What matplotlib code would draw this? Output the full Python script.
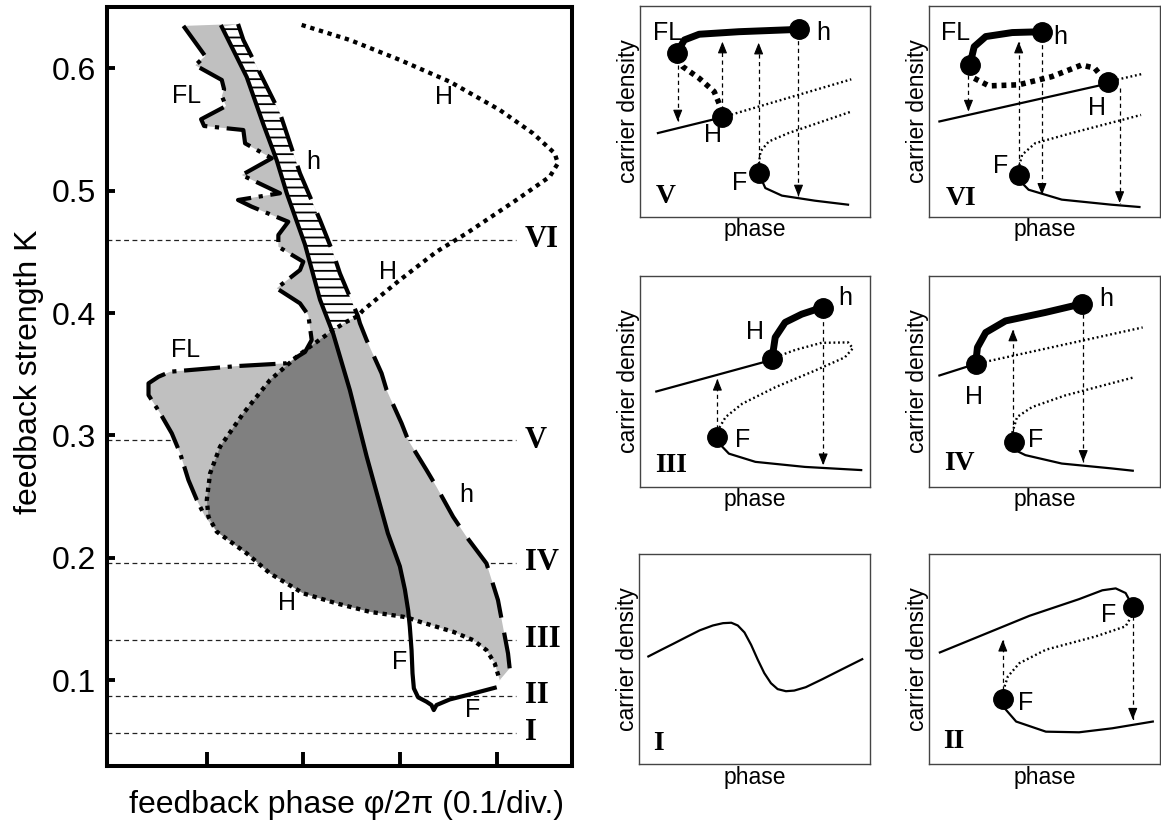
import matplotlib
matplotlib.use('Agg')
import matplotlib.pyplot as plt
import numpy as np

plt.rcParams['font.family'] = ['Liberation Sans', 'DejaVu Sans']
plt.rcParams['lines.scale_dashes'] = False
plt.rcParams['hatch.linewidth'] = 1.3

# --- main diagram: feedback phase (x) vs strength K ---
# F : saddle-node (solid)
fold_x = [0.1157, 0.1415, 0.1584, 0.1725, 0.1829, 0.2018, 0.2173, 0.2310, 0.2482,
          0.2655, 0.2875, 0.2999, 0.3051, 0.3085, 0.3102, 0.3120, 0.3130,
          0.3144, 0.3188, 0.3275, 0.3326, 0.3350, 0.3378, 0.3516, 0.3722, 0.3980]
fold_k = [0.634, 0.593, 0.555, 0.525, 0.498, 0.456, 0.411, 0.383, 0.337,
          0.283, 0.220, 0.193, 0.174, 0.157, 0.1436, 0.1245, 0.1055,
          0.0932, 0.0859, 0.0823, 0.0796, 0.0755, 0.0796, 0.0842, 0.0883, 0.0937]

# H : Hopf (dotted)
hopf_x = [0.1983, 0.2482, 0.2999, 0.3516, 0.4032, 0.4376, 0.4600, 0.4634, 0.4549,
          0.4204, 0.3688, 0.3378, 0.2999, 0.2620, 0.2565, 0.2448, 0.2310, 0.2069,
          0.1932, 0.1656, 0.1380, 0.1139, 0.1036, 0.1002, 0.1019, 0.1105, 0.1415,
          0.1656, 0.2000, 0.2345, 0.2689, 0.3033, 0.3092, 0.3206, 0.3550, 0.3756,
          0.3895, 0.3980, 0.4032]
hopf_k = [0.6356, 0.6233, 0.6070, 0.5892, 0.5661, 0.5470, 0.5307, 0.5225, 0.5115,
          0.4925, 0.4652, 0.4502, 0.4271, 0.4025, 0.3976, 0.3930, 0.3862, 0.3725,
          0.3643, 0.3453, 0.3181, 0.2908, 0.2690, 0.2472, 0.2335, 0.2213, 0.2036,
          0.1872, 0.1709, 0.1627, 0.1558, 0.1518, 0.1507, 0.1477, 0.1395, 0.1327,
          0.1245, 0.1137, 0.1000]

# h : homoclinic (dashed)
hom_x = [0.1325, 0.1380, 0.1553, 0.1759, 0.1966, 0.2173, 0.2310, 0.2379, 0.2565,
         0.2586, 0.2655, 0.2810, 0.2862, 0.3017, 0.3085, 0.3275, 0.3378, 0.3550,
         0.3688, 0.3895, 0.4014, 0.4066, 0.4118, 0.4135]
hom_k = [0.6364, 0.6233, 0.5961, 0.5634, 0.5143, 0.4761, 0.4489, 0.4325, 0.3976,
         0.3917, 0.3780, 0.3508, 0.3371, 0.3099, 0.2962, 0.2717, 0.2580, 0.2335,
         0.2172, 0.1954, 0.1654, 0.1436, 0.1218, 0.1096]

# FL : fold of limit cycles (dash-dot)
fl_x = [0.0760, 0.0985, 0.0884, 0.1157, 0.1181, 0.1157, 0.1201, 0.0943, 0.0974,
        0.1380, 0.1398, 0.1674, 0.1364, 0.1759, 0.1325, 0.1467, 0.1845, 0.1742,
        0.1742, 0.2000, 0.1966, 0.1725, 0.1966, 0.2052, 0.2087, 0.2018, 0.1829,
        0.1312, 0.0623, 0.0502, 0.0399, 0.0399, 0.0520, 0.0640, 0.0726, 0.0812,
        0.0899, 0.0985]
fl_k = [0.6348, 0.6102, 0.6026, 0.5906, 0.5830, 0.5775, 0.5693, 0.5585, 0.5530,
        0.5497, 0.5388, 0.5266, 0.5129, 0.4980, 0.4925, 0.4870, 0.4747, 0.4639,
        0.4543, 0.4420, 0.4352, 0.4203, 0.4080, 0.3984, 0.3780, 0.3682, 0.3590,
        0.3567, 0.3521, 0.3480, 0.3426, 0.3330, 0.3181, 0.3017, 0.2854, 0.2635,
        0.2472, 0.2335]

region_k = [0.057, 0.087, 0.133, 0.196, 0.296, 0.460]
region_names = ['I', 'II', 'III', 'IV', 'V', 'VI']

curve_labels = [('FL', 0.0795, 0.5775), ('h', 0.2103, 0.5233), ('H', 0.3454, 0.5764),
                ('H', 0.2878, 0.4339), ('FL', 0.0778, 0.3698), ('h', 0.3688, 0.2513),
                ('H', 0.1829, 0.1627), ('F', 0.2999, 0.1150), ('F', 0.3756, 0.0755)]

# --- sketches of carrier density vs phase (axes fraction) ---
v_stable_hi = [(0.161, 0.779), (0.194, 0.839), (0.258, 0.866), (0.430, 0.878), (0.689, 0.889)]
v_unstable_hi = [(0.161, 0.752), (0.187, 0.712), (0.258, 0.657), (0.323, 0.594), (0.356, 0.507)]
v_stable_mid = [(0.079, 0.397), (0.359, 0.472)]
v_unstable_mid = [(0.359, 0.472), (0.918, 0.652)]
v_unstable_lo = [(0.516, 0.207), (0.516, 0.239), (0.524, 0.310), (0.560, 0.357), (0.646, 0.397), (0.918, 0.499)]
v_stable_lo = [(0.516, 0.207), (0.545, 0.136), (0.617, 0.100), (0.760, 0.076), (0.904, 0.057)]
v_points = [(0.161, 0.776), (0.692, 0.889), (0.359, 0.472), (0.516, 0.207)]
v_jumps = [((0.165, 0.720), (0.165, 0.452)), ((0.359, 0.507), (0.359, 0.831)),
           ((0.516, 0.246), (0.516, 0.826)), ((0.689, 0.870), (0.689, 0.096))]
v_labels = [('FL', 0.122, 0.870), ('h', 0.796, 0.870), ('H', 0.316, 0.389), ('F', 0.433, 0.160)]

vi_stable_hi = [(0.175, 0.720), (0.194, 0.807), (0.244, 0.855), (0.359, 0.874), (0.488, 0.878)]
vi_unstable_hi = [(0.194, 0.657), (0.258, 0.621), (0.387, 0.626), (0.531, 0.665), (0.660, 0.720),
                  (0.717, 0.705), (0.753, 0.657)]
vi_stable_mid = [(0.043, 0.452), (0.775, 0.632)]
vi_unstable_mid = [(0.775, 0.641), (0.925, 0.678)]
vi_unstable_lo = [(0.387, 0.199), (0.387, 0.231), (0.402, 0.294), (0.459, 0.349), (0.617, 0.397), (0.918, 0.483)]
vi_stable_lo = [(0.387, 0.199), (0.395, 0.167), (0.430, 0.128), (0.574, 0.081), (0.789, 0.057), (0.911, 0.046)]
vi_points = [(0.175, 0.720), (0.488, 0.878), (0.775, 0.641), (0.387, 0.199)]
vi_jumps = [((0.169, 0.673), (0.169, 0.499)), ((0.387, 0.239), (0.387, 0.831)),
            ((0.488, 0.855), (0.488, 0.104)), ((0.825, 0.610), (0.825, 0.065))]
vi_labels = [('FL', 0.115, 0.870), ('h', 0.567, 0.855), ('H', 0.725, 0.515), ('F', 0.308, 0.239)]

iii_stable_hi = [(0.574, 0.606), (0.588, 0.709), (0.631, 0.780), (0.703, 0.819), (0.789, 0.850)]
iii_stable_mid = [(0.072, 0.452), (0.574, 0.602)]
iii_unstable = [(0.574, 0.606), (0.588, 0.614), (0.674, 0.649), (0.789, 0.683), (0.904, 0.685),
                (0.925, 0.657), (0.890, 0.614), (0.760, 0.551), (0.588, 0.472), (0.445, 0.394),
                (0.373, 0.331), (0.347, 0.283), (0.337, 0.236)]
iii_stable_lo = [(0.337, 0.236), (0.352, 0.197), (0.387, 0.157), (0.502, 0.118), (0.717, 0.094), (0.961, 0.079)]
iii_points = [(0.574, 0.606), (0.796, 0.850), (0.337, 0.236)]
iii_jumps = [((0.337, 0.276), (0.337, 0.512)), ((0.796, 0.819), (0.796, 0.102))]
iii_labels = [('h', 0.890, 0.898), ('H', 0.502, 0.732), ('F', 0.445, 0.220)]

iv_stable_hi = [(0.201, 0.591), (0.208, 0.661), (0.244, 0.732), (0.330, 0.787), (0.502, 0.827), (0.653, 0.866)]
iv_stable_mid = [(0.043, 0.528), (0.201, 0.583)]
iv_unstable_mid = [(0.201, 0.583), (0.925, 0.756)]
iv_unstable_lo = [(0.366, 0.213), (0.358, 0.252), (0.380, 0.331), (0.445, 0.378), (0.588, 0.433), (0.890, 0.520)]
iv_stable_lo = [(0.366, 0.213), (0.373, 0.173), (0.416, 0.150), (0.574, 0.110), (0.789, 0.087), (0.882, 0.076)]
iv_points = [(0.201, 0.583), (0.660, 0.866), (0.366, 0.213)]
iv_jumps = [((0.362, 0.258), (0.362, 0.746)), ((0.667, 0.819), (0.667, 0.118))]
iv_labels = [('h', 0.768, 0.890), ('H', 0.194, 0.425), ('F', 0.459, 0.220)]

i_curve = [(0.039, 0.512), (0.096, 0.544), (0.147, 0.572), (0.204, 0.604), (0.262, 0.636),
           (0.319, 0.659), (0.363, 0.670), (0.399, 0.672), (0.427, 0.659), (0.456, 0.626),
           (0.485, 0.567), (0.514, 0.496), (0.542, 0.433), (0.571, 0.385), (0.600, 0.357),
           (0.636, 0.347), (0.672, 0.350), (0.722, 0.366), (0.794, 0.404), (0.881, 0.452),
           (0.967, 0.499)]

ii_stable_hi = [(0.046, 0.531), (0.435, 0.705), (0.650, 0.784), (0.751, 0.826), (0.809, 0.835),
                (0.852, 0.813), (0.883, 0.750)]
ii_unstable = [(0.883, 0.747), (0.881, 0.710), (0.852, 0.655), (0.722, 0.607), (0.506, 0.544),
               (0.391, 0.480), (0.341, 0.417), (0.322, 0.353), (0.319, 0.309)]
ii_stable_lo = [(0.319, 0.309), (0.327, 0.266), (0.377, 0.203), (0.506, 0.155), (0.650, 0.152),
                (0.794, 0.171), (0.970, 0.203)]
ii_points = [(0.883, 0.747), (0.319, 0.309)]
ii_jumps = [((0.319, 0.353), (0.319, 0.591)), ((0.883, 0.702), (0.883, 0.212))]
ii_labels = [('F', 0.780, 0.708), ('F', 0.420, 0.293)]

LIGHT = '#c0c0c0'
DARK = '#808080'

fig = plt.figure(figsize=(11.61, 8.23), dpi=100)

# ---------------- main panel ----------------
ax = fig.add_axes([0.0922, 0.0696, 0.4005, 0.9215])
ax.set_xlim(-0.003, 0.478)
ax.set_ylim(0.030, 0.650)

for k, name in zip(region_k, region_names):
    ax.plot([-0.003, 0.42], [k, k], color='#222222', lw=0.9, dashes=(3.5, 2.5), zorder=1)
    ax.text(0.429, k, name, family='Liberation Serif', weight='bold', fontsize=22,
            ha='left', va='center')

fl = np.column_stack([fl_x, fl_k])
hopf = np.column_stack([hopf_x, hopf_k])
hom = np.column_stack([hom_x, hom_k])
fold = np.column_stack([fold_x, fold_k])

light_poly = np.vstack([fl, hopf[25:], hom[::-1]])
ax.fill(light_poly[:, 0], light_poly[:, 1], color=LIGHT, lw=0, zorder=2)
dark_poly = np.vstack([hopf[16:33], fold[13:6:-1]])
ax.fill(dark_poly[:, 0], dark_poly[:, 1], color=DARK, lw=0, zorder=3)
hatch_poly = np.vstack([hom[:9], hopf[15:17], fold[7::-1]])
ax.fill(hatch_poly[:, 0], hatch_poly[:, 1], facecolor='white', edgecolor='k',
        hatch='--', lw=0, zorder=3)

ax.plot(fold_x, fold_k, color='k', lw=3, zorder=6)
ax.plot(hom_x, hom_k, color='k', lw=3, dashes=(26, 11), zorder=5)
ax.plot(fl_x, fl_k, color='k', lw=3, dashes=(26, 5.5, 3, 5.5), zorder=5)
ax.plot(hopf_x, hopf_k, color='k', lw=3.1, dashes=(3.1, 3.4), zorder=6)

for txt, x, k in curve_labels:
    ax.text(x, k, txt, fontsize=18, ha='center', va='center', zorder=7)

ax.set_xticks([0.1, 0.2, 0.3, 0.4])
ax.set_yticks([0.1, 0.2, 0.3, 0.4, 0.5, 0.6])
ax.set_yticklabels(['0.1', '0.2', '0.3', '0.4', '0.5', '0.6'])
ax.tick_params(axis='x', direction='in', length=10, width=2.8, labelbottom=False)
ax.tick_params(axis='y', direction='in', length=6, width=2.8, labelsize=23, pad=8)
for s in ax.spines.values():
    s.set_linewidth(2.9)
ax.set_ylabel('feedback strength K', fontsize=23)
ax.yaxis.set_label_coords(-0.135, 0.52)
ax.set_xlabel('feedback phase φ/2π (0.1/div.)', fontsize=23)
ax.xaxis.set_label_coords(0.514, -0.032)


# ---------------- small sketches ----------------
def sketch(pos, roman, roman_xy):
    a = fig.add_axes(pos)
    a.set_xlim(0, 1)
    a.set_ylim(0, 1)
    a.set_xticks([])
    a.set_yticks([])
    for s in a.spines.values():
        s.set_linewidth(1.0)
        s.set_color('#444444')
    a.set_xlabel('phase', fontsize=16.5, labelpad=1)
    a.set_ylabel('carrier density', fontsize=16.5, labelpad=0)
    a.text(roman_xy[0], roman_xy[1], roman, family='Liberation Serif', weight='bold',
           fontsize=20, ha='center', va='center')
    return a


def line(a, pts, kind):
    xs, ys = zip(*pts)
    if kind == 'thick':
        a.plot(xs, ys, color='k', lw=5, solid_capstyle='round', solid_joinstyle='round')
    elif kind == 'thin':
        a.plot(xs, ys, color='k', lw=1.6, solid_joinstyle='round')
    elif kind == 'dots':
        a.plot(xs, ys, color='k', lw=1.7, dashes=(1.3, 2.0))
    elif kind == 'bigdots':
        a.plot(xs, ys, color='k', lw=4, dashes=(3.5, 3.5))


def jumps(a, pairs):
    for (x0, y0), (x1, y1) in pairs:
        a.plot([x0, x1], [y0, y1], color='k', lw=0.9, dashes=(3, 2.5))
        d = 0.05 if y1 > y0 else -0.05
        a.annotate('', xy=(x1, y1), xytext=(x1, y1 - d),
                   arrowprops=dict(arrowstyle='-|>,head_length=0.5,head_width=0.2',
                                   mutation_scale=14, color='k', lw=0.8,
                                   shrinkA=0, shrinkB=0))


def points(a, pts, labels):
    xs, ys = zip(*pts)
    a.plot(xs, ys, 'o', color='k', ms=14, zorder=5)
    for txt, x, y in labels:
        a.text(x, y, txt, fontsize=18, ha='center', va='center')


W, H = 0.1985, 0.2560
a = sketch([0.5510, 0.7367, W, H], 'V', (0.112, 0.096))
line(a, v_stable_hi, 'thick')
line(a, v_unstable_hi, 'bigdots')
line(a, v_stable_mid, 'thin')
line(a, v_unstable_mid, 'dots')
line(a, v_unstable_lo, 'dots')
line(a, v_stable_lo, 'thin')
jumps(a, v_jumps)
points(a, v_points, v_labels)

a = sketch([0.8006, 0.7367, W, H], 'VI', (0.136, 0.088))
line(a, vi_stable_hi, 'thick')
line(a, vi_unstable_hi, 'bigdots')
line(a, vi_stable_mid, 'thin')
line(a, vi_unstable_mid, 'dots')
line(a, vi_unstable_lo, 'dots')
line(a, vi_stable_lo, 'thin')
jumps(a, vi_jumps)
points(a, vi_points, vi_labels)

a = sketch([0.5510, 0.4086, W, H], 'III', (0.136, 0.102))
line(a, iii_stable_hi, 'thick')
line(a, iii_stable_mid, 'thin')
line(a, iii_unstable, 'dots')
line(a, iii_stable_lo, 'thin')
jumps(a, iii_jumps)
points(a, iii_points, iii_labels)

a = sketch([0.8006, 0.4086, W, H], 'IV', (0.129, 0.110))
line(a, iv_stable_hi, 'thick')
line(a, iv_stable_mid, 'thin')
line(a, iv_unstable_mid, 'dots')
line(a, iv_unstable_lo, 'dots')
line(a, iv_stable_lo, 'thin')
jumps(a, iv_jumps)
points(a, iv_points, iv_labels)

a = sketch([0.5507, 0.0713, W, H], 'I', (0.082, 0.100))
line(a, i_curve, 'thin')

a = sketch([0.8004, 0.0713, W, H], 'II', (0.106, 0.108))
line(a, ii_stable_hi, 'thin')
line(a, ii_unstable, 'dots')
line(a, ii_stable_lo, 'thin')
jumps(a, ii_jumps)
points(a, ii_points, ii_labels)

fig.savefig('out.png', dpi=100)
